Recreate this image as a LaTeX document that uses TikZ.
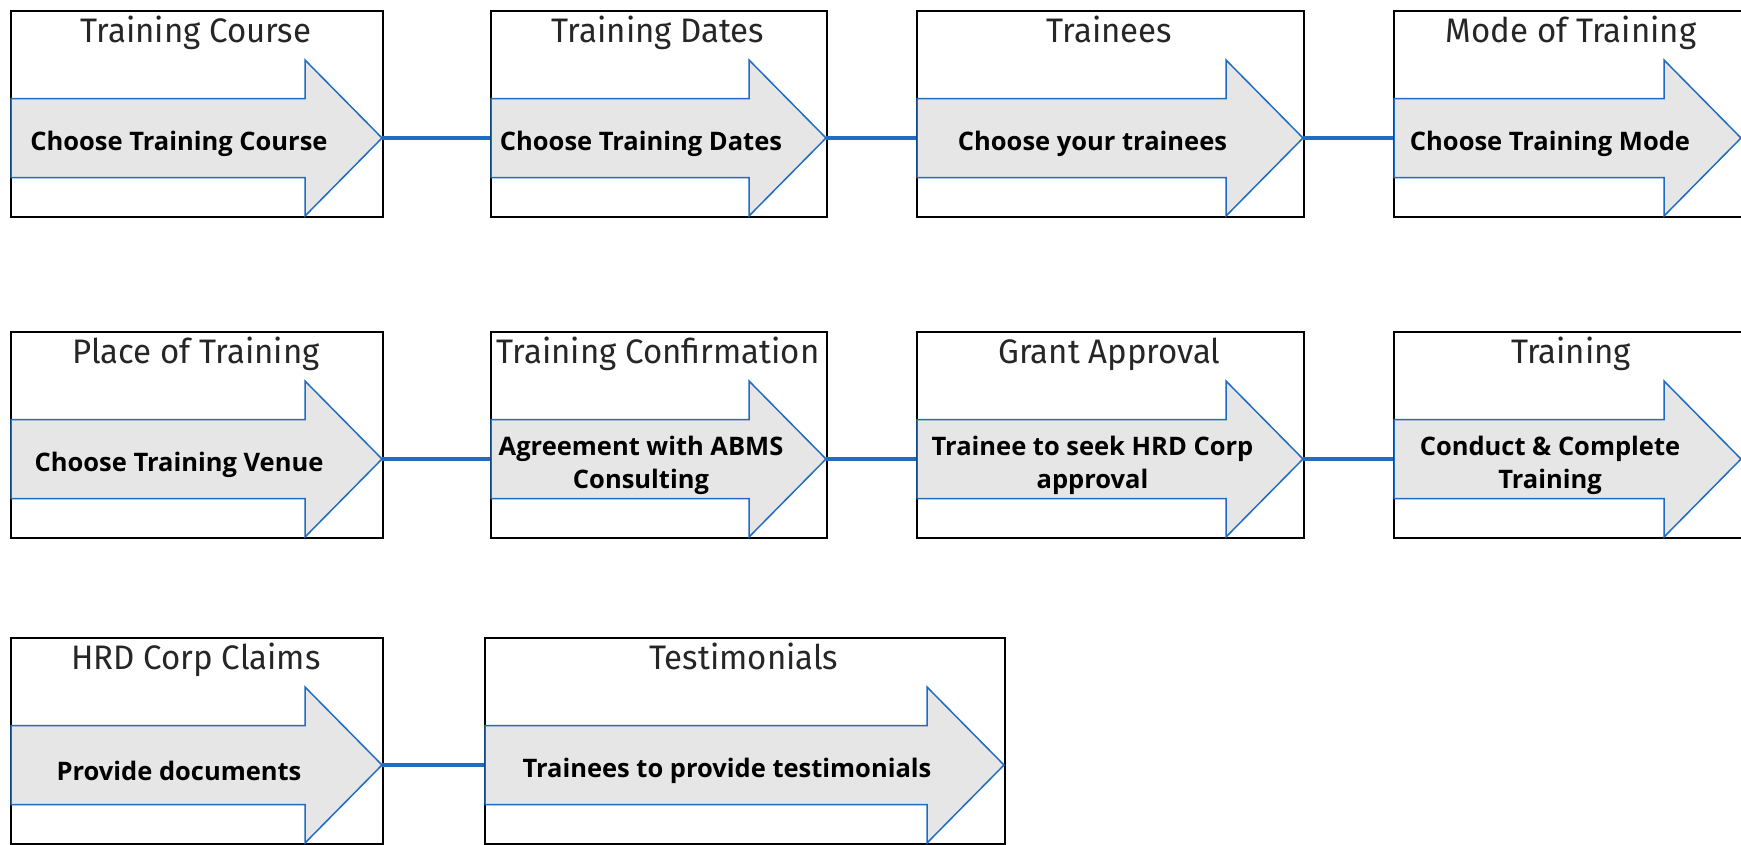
\documentclass[tikz,border=0pt]{standalone}
\usepackage{fontspec}
\newfontfamily\titlefont[FakeStretch=0.97]{Fira Sans}
\newfontfamily\labelfont{Open Sans}
\definecolor{linkblue}{HTML}{1F6CC2}
\definecolor{arrowfill}{HTML}{E6E6E6}
\definecolor{titlegray}{HTML}{262626}
\tikzset{
  boxst/.style={draw=black, line width=2.3pt, fill=none, inner sep=0pt, rectangle},
  arrowst/.style={draw=linkblue, line width=1.5pt, fill=arrowfill, line join=miter},
  conn/.style={draw=linkblue, line width=4pt},
  ttlst/.style={font=\titlefont\fontsize{34}{38}\selectfont, text=titlegray, inner sep=0pt},
  lblst/.style={font=\labelfont\bfseries\fontsize{25.5}{33}\selectfont, text=black, align=center, inner sep=0pt},
}
% #1 name, #2 box left, #3 box right, #4 box top, #5 arrow tip x, #6 title, #7 label
\newcommand\stagebox[7]{%
  \node[boxst, minimum width={#3-#2}, minimum height=206, anchor=north west] (#1) at (#2,#4) {};
  \draw[arrowst] (#2+1,#4+88.5) -- (#5-77,#4+88.5) -- (#5-77,#4+50) -- (#5,#4+128)
     -- (#5-77,#4+206) -- (#5-77,#4+167.5) -- (#2+1,#4+167.5) -- cycle;
  \coordinate (#1tip) at (#5,#4+128);
  \coordinate (#1tail) at (#2,#4+128);
  \node[ttlst, anchor=base] (#1ttl) at ({(#2+#3)/2},#4+32) {#6};
  \node[lblst] (#1lbl) at ({(#2+#5)/2-17},#4+134) {#7};
}
\begin{document}
\begin{tikzpicture}[x=1pt,y=-1pt]
\useasboundingbox (0,0) rectangle (1741,844);
% row 1
\stagebox{a1}{10}{382}{10}{382}{Training Course}{Choose Training Course}
\stagebox{a2}{490}{826}{10}{826}{Training Dates}{Choose Training Dates}
\stagebox{a3}{916}{1303}{10}{1303}{Trainees}{Choose your trainees}
\stagebox{a4}{1393}{1749}{10}{1741}{Mode of Training}{Choose Training Mode}
% row 2
\stagebox{b1}{10}{382}{331}{382}{Place of Training}{Choose Training Venue}
\stagebox{b2}{490}{826}{331}{826}{Training Confirmation}{Agreement with ABMS\\Consulting}
\stagebox{b3}{916}{1303}{331}{1303}{Grant Approval}{Trainee to seek HRD Corp\\approval}
\stagebox{b4}{1393}{1749}{331}{1741}{Training}{Conduct \& Complete\\Training}
% row 3
\stagebox{c1}{10}{382}{637}{382}{HRD Corp Claims}{Provide documents}
\stagebox{c2}{484}{1004}{637}{1004}{Testimonials}{Trainees to provide testimonials}
% connectors
\draw[conn] (a1tip) -- (a2tail);
\draw[conn] (a2tip) -- (a3tail);
\draw[conn] (a3tip) -- (a4tail);
\draw[conn] (b1tip) -- (b2tail);
\draw[conn] (b2tip) -- (b3tail);
\draw[conn] (b3tip) -- (b4tail);
\draw[conn] (c1tip) -- (c2tail);
\end{tikzpicture}
\end{document}
